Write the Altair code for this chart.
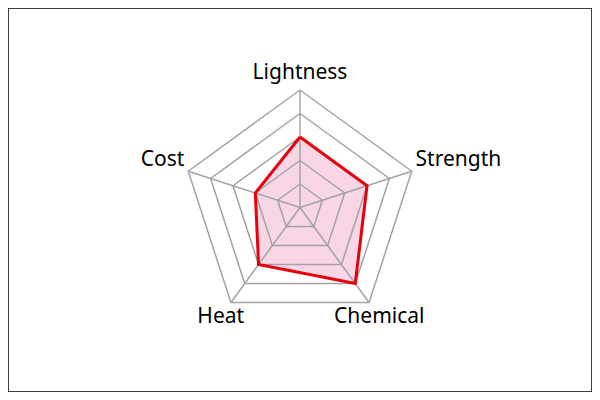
import altair as alt
import pandas as pd

categories = ["Lightness", "Strength", "Chemical", "Heat", "Cost"]
values = [3, 3, 4, 3, 2]
levels = [1, 2, 3, 4, 5]

n = len(categories)
top = max(levels)

ring_df = pd.DataFrame([{"level": l, "k": k} for l in levels for k in range(n + 1)])
series_df = pd.DataFrame({
    "category": categories + [categories[0]],
    "value": values + [values[0]],
    "k": list(range(n + 1)),
})
spoke_df = pd.DataFrame({"category": categories, "k": list(range(n)), "r": [top] * n})

xs = alt.Scale(domain=[-12.426, 12.426], nice=False, zero=False)
ys = alt.Scale(domain=[-7.851, 8.489], nice=False, zero=False)


def polar(chart, rfield, suffix=""):
    return chart.transform_calculate(
        ang=f"datum.k * 2 * PI / {n}"
    ).transform_calculate(
        **{"x" + suffix: f"{rfield} * sin(datum.ang)", "y" + suffix: f"{rfield} * cos(datum.ang)"}
    )


X = alt.X("x:Q", scale=xs, axis=None)
Y = alt.Y("y:Q", scale=ys, axis=None)

fill = polar(alt.Chart(series_df), "datum.value").mark_line(
    fill="#f8d6e6", stroke=None, strokeWidth=0
).encode(x=X, y=Y, order="k:Q")

rings = polar(alt.Chart(ring_df), "datum.level").mark_line(
    color="#a3a3a3", strokeWidth=1.5
).encode(x=X, y=Y, detail="level:N", order="k:Q")

spokes = alt.Chart(spoke_df).transform_calculate(
    ang=f"datum.k * 2 * PI / {n}"
).transform_calculate(
    x="datum.r * sin(datum.ang)", y="datum.r * cos(datum.ang)", x0="0", y0="0"
).mark_rule(color="#a3a3a3", strokeWidth=1.5).encode(
    x=alt.X("x0:Q", scale=xs, axis=None), y=alt.Y("y0:Q", scale=ys, axis=None),
    x2="x:Q", y2="y:Q"
)

line = polar(alt.Chart(series_df), "datum.value").mark_line(
    color="#e8000b", strokeWidth=3, strokeJoin="miter"
).encode(x=X, y=Y, order="k:Q")

label_font = dict(font="Noto Sans", fontSize=21, color="black")

lab_center = polar(alt.Chart(spoke_df).transform_filter(
    alt.FieldOneOfPredicate(field="category", oneOf=["Lightness", "Heat", "Chemical"])
), "5.74").mark_text(align="center", baseline="middle", **label_font).encode(
    x=X, y=Y, text="category:N")

lab_left = polar(alt.Chart(spoke_df).transform_filter(
    alt.FieldEqualPredicate(field="category", equal="Strength")
), "5.17").mark_text(align="left", baseline="middle", dy=-10, **label_font).encode(
    x=X, y=Y, text="category:N")

lab_right = polar(alt.Chart(spoke_df).transform_filter(
    alt.FieldEqualPredicate(field="category", equal="Cost")
), "5.17").mark_text(align="right", baseline="middle", dy=-10, **label_font).encode(
    x=X, y=Y, text="category:N")

chart = alt.layer(fill, rings, spokes, line, lab_center, lab_left, lab_right).properties(
    width=584, height=384, autosize=alt.AutoSizeParams(type="none"), padding=0,
    background="white"
).configure_view(stroke="black", strokeWidth=1.5)

chart.save("out.html", embed_options={"renderer": "svg", "actions": False})
